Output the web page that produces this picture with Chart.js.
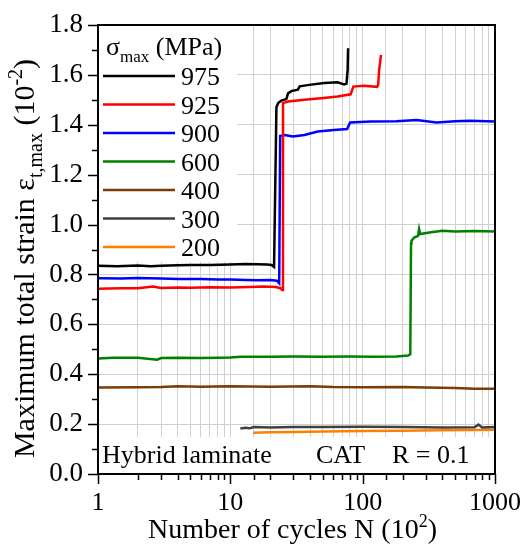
<!DOCTYPE html>
<html>
<head>
<meta charset="utf-8">
<script src="https://cdn.jsdelivr.net/npm/chart.js@4/dist/chart.umd.min.js"></script>
<style>
  html, body { margin: 0; padding: 0; background: #fff; }
  canvas { display: block; }
</style>
</head>
<body>
<canvas id="strain-chart" width="525" height="545"></canvas>
<script>
'use strict';

// ── Data (cycles in units of 10^2, strain in units of 10^-2) ────────────────
const stressLevels = ['975', '925', '900', '600', '400', '300', '200'];

const cycles975 = [1, 1.4, 2, 2.5, 3, 4, 5, 7, 10, 13, 16, 19, 20.5, 21.4, 22.3, 23.0, 24.3, 26.5, 27.3, 28.9, 32.4, 33.4, 40.8, 51.4, 64.6, 72.5, 75.5, 77, 77.6];
const strain975 = [0.835, 0.833, 0.836, 0.833, 0.835, 0.837, 0.838, 0.838, 0.840, 0.842, 0.841, 0.840, 0.838, 0.830, 1.470, 1.487, 1.497, 1.503, 1.526, 1.535, 1.541, 1.554, 1.561, 1.567, 1.570, 1.562, 1.565, 1.620, 1.707];

const cycles925 = [1, 1.5, 2, 2.6, 3, 4, 5, 7, 10, 14, 18, 22, 24.0, 24.6, 25.0, 27.3, 36.3, 48.5, 64.6, 81.1, 85.0, 101.9, 128.5, 131, 133.2, 137.6];
const strain925 = [0.743, 0.745, 0.745, 0.752, 0.746, 0.748, 0.747, 0.749, 0.748, 0.750, 0.752, 0.750, 0.745, 0.738, 1.487, 1.493, 1.500, 1.506, 1.513, 1.522, 1.553, 1.556, 1.552, 1.560, 1.620, 1.680];

const cycles900 = [1, 1.5, 2, 3, 4, 6, 8, 10, 13, 16, 20, 22.5, 23.4, 23.8, 25.8, 29.7, 36.3, 45.7, 60.6, 76.3, 80.4, 114.5, 180, 256, 362, 500, 642, 1000];
const strain900 = [0.785, 0.784, 0.786, 0.784, 0.782, 0.782, 0.780, 0.780, 0.778, 0.777, 0.778, 0.775, 0.765, 1.355, 1.359, 1.353, 1.359, 1.373, 1.379, 1.383, 1.409, 1.413, 1.414, 1.419, 1.409, 1.414, 1.416, 1.413];

const cycles600 = [1, 1.3, 2, 2.8, 3, 4, 6, 8, 10, 12, 20, 30, 50, 80, 120, 180, 220, 229, 232, 234, 245, 262, 267, 272, 320, 400, 500, 700, 1000];
const strain600 = [0.463, 0.466, 0.466, 0.458, 0.465, 0.466, 0.465, 0.466, 0.467, 0.470, 0.470, 0.471, 0.470, 0.471, 0.470, 0.471, 0.475, 0.480, 0.925, 0.935, 0.948, 0.955, 0.982, 0.962, 0.968, 0.975, 0.972, 0.974, 0.972];

const cycles400 = [1, 2, 3, 4, 6, 10, 20, 40, 60, 100, 200, 300, 500, 700, 1000];
const strain400 = [0.347, 0.348, 0.349, 0.352, 0.350, 0.352, 0.350, 0.352, 0.349, 0.348, 0.349, 0.347, 0.345, 0.342, 0.342];

const cycles300 = [11.9, 13, 14, 15, 20, 30, 50, 100, 200, 400, 700, 750, 800, 1000];
const strain300 = [0.182, 0.185, 0.183, 0.188, 0.186, 0.188, 0.188, 0.189, 0.188, 0.186, 0.187, 0.198, 0.186, 0.188];

const cycles200 = [14.9, 20, 30, 50, 100, 200, 400, 700, 1000];
const strain200 = [0.165, 0.167, 0.168, 0.170, 0.172, 0.173, 0.175, 0.176, 0.177];

const xTickLabels = ['1', '10', '100', '1000'];
const yTickLabels = ['0.0', '0.2', '0.4', '0.6', '0.8', '1.0', '1.2', '1.4', '1.6', '1.8'];

// ── Styles ──────────────────────────────────────────────────────────────────
const SERIES_COLORS = ['#000000', '#ff0000', '#0000ff', '#008000', '#7a3d0a', '#404040', '#ff8000'];
const FONT_FAMILY   = "'Liberation Serif', 'Times New Roman', serif";
const FONT_SIZE     = 26;
const GRID_COLOR    = '#d0d0d0';

const allCycles = [cycles975, cycles925, cycles900, cycles600, cycles400, cycles300, cycles200];
const allStrain = [strain975, strain925, strain900, strain600, strain400, strain300, strain200];

function isDecade(v) {
  const l = Math.log10(v);
  return Math.abs(l - Math.round(l)) < 1e-9;
}

function isEvenTenth(v) {
  return Math.round(v * 10) % 2 === 0;
}

// ── Rich text helper (sub / superscripts) ───────────────────────────────────
function drawRich(ctx, parts, x, y, size, align) {
  const fontFor = function (p) {
    return ((p.sub || p.sup) ? Math.round(size * 0.66) : size) + 'px ' + FONT_FAMILY;
  };
  const widths = parts.map(function (p) {
    ctx.font = fontFor(p);
    return ctx.measureText(p.t).width;
  });
  const total = widths.reduce(function (a, b) { return a + b; }, 0);
  let cx = align === 'center' ? x - total / 2 : x;
  ctx.textAlign = 'left';
  ctx.textBaseline = 'alphabetic';
  parts.forEach(function (p, i) {
    ctx.font = fontFor(p);
    const dy = p.sub ? size * 0.26 : (p.sup ? -size * 0.4 : 0);
    ctx.fillText(p.t, cx, y + dy);
    cx += widths[i];
  });
}

// ── Plugins ─────────────────────────────────────────────────────────────────

/** White boxes behind legend and caption (grid hidden there). */
const boxesPlugin = {
  id: 'boxes',
  beforeDatasetsDraw(chart) {
    const { ctx, chartArea: a } = chart;
    ctx.save();
    ctx.fillStyle = '#ffffff';
    ctx.fillRect(a.left + 1, a.top + 1, 138, 236);
    ctx.fillRect(a.left + 1, a.bottom - 37, a.right - a.left - 2, 36);
    ctx.restore();
  },
};

/** Frame, tick marks, legend, caption and axis titles. */
const decorPlugin = {
  id: 'decor',
  afterDraw(chart) {
    const { ctx, chartArea: a, scales } = chart;
    const xs = scales.x;
    const ys = scales.y;
    ctx.save();

    // tick marks, outside
    ctx.strokeStyle = '#000';
    ctx.lineWidth = 1.5;
    ctx.beginPath();
    xs.ticks.forEach(function (t) {
      const px = Math.round(xs.getPixelForValue(t.value)) + 0.5;
      const len = isDecade(t.value) ? 10 : 6;
      ctx.moveTo(px, a.bottom);
      ctx.lineTo(px, a.bottom + len);
    });
    ys.ticks.forEach(function (t) {
      const py = Math.round(ys.getPixelForValue(t.value)) + 0.5;
      const len = isEvenTenth(t.value) ? 10 : 6;
      ctx.moveTo(a.left, py);
      ctx.lineTo(a.left - len, py);
    });
    ctx.stroke();

    // frame
    ctx.lineWidth = 2;
    ctx.strokeRect(a.left, a.top, a.right - a.left, a.bottom - a.top);

    // legend
    ctx.fillStyle = '#000';
    drawRich(ctx, [{ t: 'σ' }, { t: 'max', sub: true }, { t: ' (MPa)' }], a.left + 8, a.top + 30, FONT_SIZE, 'left');
    stressLevels.forEach(function (lbl, i) {
      const ly = a.top + 51 + i * 28.5;
      ctx.strokeStyle = SERIES_COLORS[i];
      ctx.lineWidth = 2.5;
      ctx.beginPath();
      ctx.moveTo(a.left + 5, ly);
      ctx.lineTo(a.left + 77, ly);
      ctx.stroke();
      ctx.fillStyle = '#000';
      drawRich(ctx, [{ t: lbl }], a.left + 83, ly + 9, FONT_SIZE, 'left');
    });

    // caption
    const capY = a.bottom - 11;
    drawRich(ctx, [{ t: 'Hybrid laminate' }], a.left + 4, capY, FONT_SIZE, 'left');
    drawRich(ctx, [{ t: 'CAT' }], a.left + 218, capY, FONT_SIZE, 'left');
    drawRich(ctx, [{ t: 'R = 0.1' }], a.left + 294, capY, FONT_SIZE, 'left');

    // x axis title
    drawRich(ctx, [{ t: 'Number of cycles N (10' }, { t: '2', sup: true }, { t: ')' }],
      (a.left + a.right) / 2 - 4, 538, 28, 'center');

    // y axis title (rotated)
    ctx.translate(34, 258.5);
    ctx.rotate(-Math.PI / 2);
    drawRich(ctx, [
      { t: 'Maximum total strain ε' }, { t: 't,max', sub: true },
      { t: ' (10' }, { t: '-2', sup: true }, { t: ')' },
    ], 0, 0, 30, 'center');

    ctx.restore();
  },
};

// ── Chart ───────────────────────────────────────────────────────────────────
Chart.defaults.font.family = FONT_FAMILY;
Chart.defaults.color = '#000';

const datasets = stressLevels.map(function (lbl, i) {
  return {
    label: lbl,
    data: allCycles[i].map(function (n, k) { return { x: n, y: allStrain[i][k] }; }),
    borderColor: SERIES_COLORS[i],
    borderWidth: 2.5,
    pointRadius: 0,
    tension: 0,
    fill: false,
  };
});

new Chart(document.getElementById('strain-chart'), {
  type: 'line',
  data: { datasets: datasets },
  options: {
    responsive: false,
    animation: false,
    layout: { padding: { top: 25, right: 26, left: 0, bottom: 0 } },
    plugins: {
      legend: { display: false },
      tooltip: { enabled: false },
    },
    scales: {
      x: {
        type: 'logarithmic',
        min: 1,
        max: 1000,
        border: { display: false },
        grid: { color: GRID_COLOR, lineWidth: 1, tickLength: 10, tickColor: 'transparent' },
        ticks: {
          autoSkip: false,
          maxRotation: 0,
          padding: 4,
          font: { size: FONT_SIZE },
          callback: function (v) {
            return isDecade(v) ? xTickLabels[Math.round(Math.log10(v))] : '';
          },
        },
        afterFit: function (s) { s.height = 71; },
      },
      y: {
        type: 'linear',
        min: 0,
        max: 1.8,
        border: { display: false },
        grid: {
          tickLength: 10,
          tickColor: 'transparent',
          color: function (c) {
            return c.tick && isEvenTenth(c.tick.value) ? GRID_COLOR : 'transparent';
          },
        },
        ticks: {
          stepSize: 0.1,
          autoSkip: false,
          padding: 5,
          font: { size: FONT_SIZE + 1 },
          callback: function (v) {
            const k = Math.round(v * 10);
            return k % 2 === 0 ? yTickLabels[k / 2] : '';
          },
        },
        afterFit: function (s) { s.width = 98; },
      },
    },
  },
  plugins: [boxesPlugin, decorPlugin],
});
</script>
</body>
</html>
